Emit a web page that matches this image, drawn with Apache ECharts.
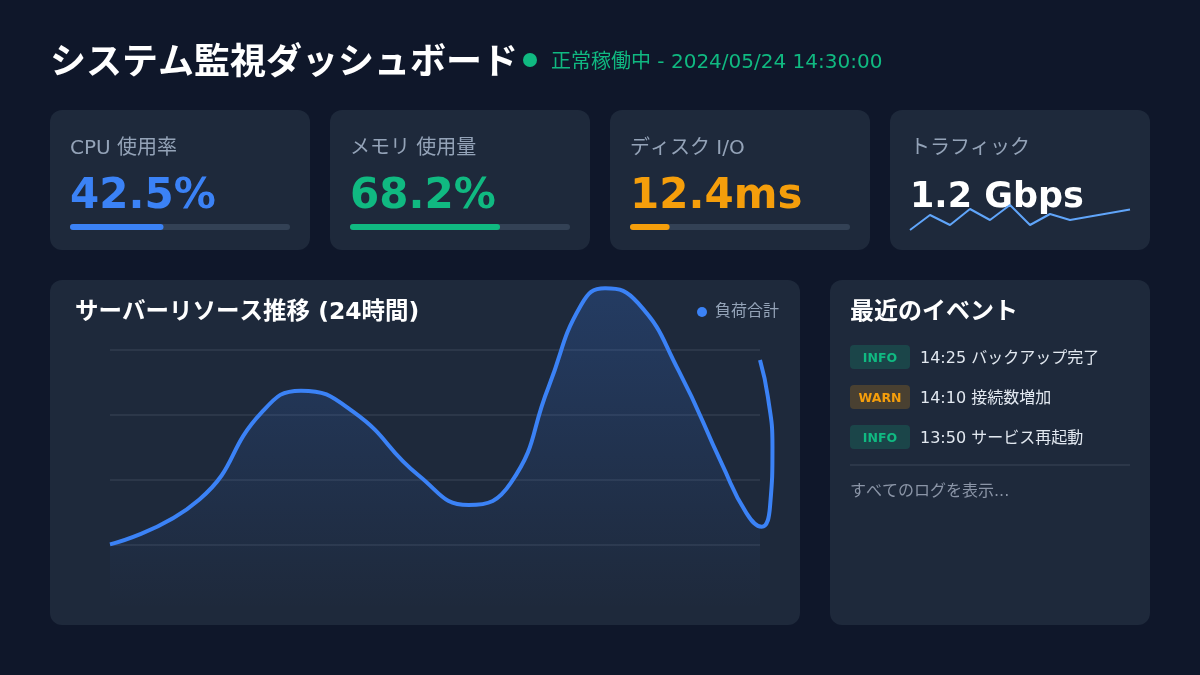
<!DOCTYPE html>
<html>
<head>
<meta charset="utf-8">
<script src="https://cdn.jsdelivr.net/npm/echarts@6/dist/echarts.min.js"></script>
<style>
  html, body { margin: 0; padding: 0; background: #0f172a; }
  #main { width: 1200px; height: 675px; }
</style>
</head>
<body>
<div id="main"></div>
<script>
// ヘッダー
var pageTitle = 'システム監視ダッシュボード';
var statusText = '正常稼働中 - 2024/05/24 14:30:00';

// KPIカード
var cardLabels = ['CPU 使用率', 'メモリ 使用量', 'ディスク I/O', 'トラフィック'];
var cardValues = ['42.5%', '68.2%', '12.4ms', '1.2 Gbps'];
var cardBars = [42.5, 68.2, 18];          // プログレスバー (%)
var trafficSpark = [0, 15, 5, 21, 10, 25, 5, 16, 10, 13.5, 17, 20.5];

// サーバーリソース推移 (時間, 負荷)
var chartTitle = 'サーバーリソース推移 (24時間)';
var seriesName = '負荷合計';
var hours = [0, 3.3, 5.6, 7.05,
             9.0, 11.4, 13.24,
             14.8, 16.2, 17.4, 18.28,
             19.5, 21.0, 22.6, 23.5, 24.06,
             24.37, 24.46, 24.29, 24];
var load = [20.2, 34.0, 60.8, 67.5,
            60.9, 41.4, 32.3,
            39.1, 68.8, 93.9, 99.0,
            94.4, 73.6, 44.8, 29.8, 25.6,
            31.8, 50.3, 65.6, 76.9];

// イベント
var eventsTitle = '最近のイベント';
var eventLevels = ['INFO', 'WARN', 'INFO'];
var eventTimes = ['14:25', '14:10', '13:50'];
var eventTexts = ['バックアップ完了', '接続数増加', 'サービス再起動'];
var moreText = 'すべてのログを表示...';

var FONT = "'DejaVu Sans', 'Noto Sans CJK JP', sans-serif";
var cardColors = ['#3b82f6', '#10b981', '#f59e0b', '#ffffff'];
var levelStyle = {
  INFO: { bg: 'rgba(16,185,129,0.2)', fg: '#10b981' },
  WARN: { bg: 'rgba(245,158,11,0.2)', fg: '#f59e0b' }
};

var chart = echarts.init(document.getElementById('main'));

var graphics = [];
function txt(x, y, text, font, color, align) {
  graphics.push({
    type: 'text', z: 1,
    style: { x: x, y: y, text: text, font: font, fill: color, align: align || 'left', verticalAlign: 'middle' }
  });
}
function box(x, y, w, h, r, color, z) {
  graphics.push({ type: 'rect', z: z || 0, shape: { x: x, y: y, width: w, height: h, r: r }, style: { fill: color } });
}

// header
txt(50, 65, pageTitle, 'bold 36px ' + FONT, '#ffffff');
graphics.push({ type: 'circle', z: 1, shape: { cx: 530, cy: 60, r: 7 }, style: { fill: '#10b981' } });
txt(551, 63, statusText, '20px ' + FONT, '#10b981');

// cards
var grids = [], xAxes = [], yAxes = [], series = [];
cardLabels.forEach(function (label, i) {
  var x0 = 50 + i * 280;
  box(x0, 110, 260, 140, 12, '#1e293b');
  txt(x0 + 20, 149, label, '20px ' + FONT, '#94a3b8');
  if (i < 3) {
    txt(x0 + 20, 197, cardValues[i], 'bold 42px ' + FONT, cardColors[i]);
    grids.push({ left: x0 + 20, top: 224, width: 220, height: 6 });
    xAxes.push({ type: 'value', min: 0, max: 100, show: false, gridIndex: i });
    yAxes.push({ type: 'category', data: [label], show: false, gridIndex: i });
    series.push({
      type: 'bar', xAxisIndex: i, yAxisIndex: i, data: [cardBars[i]], barWidth: 6,
      itemStyle: { color: cardColors[i], borderRadius: 3 },
      showBackground: true, backgroundStyle: { color: '#334155', borderRadius: 3 },
      silent: true
    });
  } else {
    txt(x0 + 20, 198, cardValues[i], 'bold 35px ' + FONT, cardColors[i]);
    grids.push({ left: 910, top: 200, width: 220, height: 30 });
    xAxes.push({ type: 'category', data: trafficSpark.map(function (v, k) { return k; }), boundaryGap: false, show: false, gridIndex: i });
    yAxes.push({ type: 'value', min: 0, max: 30, show: false, gridIndex: i });
    series.push({
      type: 'line', xAxisIndex: i, yAxisIndex: i, data: trafficSpark, showSymbol: false, z: 3,
      lineStyle: { color: '#60a5fa', width: 2 }, silent: true
    });
  }
});

// main panel
box(50, 280, 750, 345, 12, '#1e293b');
txt(75, 313, chartTitle, 'bold 23.5px ' + FONT, '#ffffff');

// grid 4: 0-24h (split lines + area), grid 5: same scale, wider so the line tail is not cut
grids.push({ left: 110, width: 650, top: 285, bottom: 65 });
grids.push({ left: 110, width: 650 * 25 / 24, top: 285, bottom: 65 });
xAxes.push({ type: 'value', min: 0, max: 24, show: false, gridIndex: 4 });
xAxes.push({ type: 'value', min: 0, max: 25, show: false, gridIndex: 5 });
yAxes.push({
  type: 'value', min: 0, max: 100, interval: 20, gridIndex: 4,
  axisLine: { show: false }, axisTick: { show: false }, axisLabel: { show: false },
  splitLine: { show: true, showMinLine: false, showMaxLine: false, lineStyle: { color: '#2c3749', width: 2 } }
});
yAxes.push({ type: 'value', min: 0, max: 100, show: false, gridIndex: 5 });

var mainPts = hours.map(function (h, k) { return [h, load[k]]; });
series.push({
  name: 'area', type: 'line', xAxisIndex: 4, yAxisIndex: 4, smooth: true, showSymbol: false,
  data: mainPts, lineStyle: { width: 0 }, silent: true,
  areaStyle: {
    color: new echarts.graphic.LinearGradient(0, 0, 0, 1, [
      { offset: 0, color: 'rgba(59,130,246,0.3)' },
      { offset: 1, color: 'rgba(59,130,246,0)' }
    ])
  }
});
series.push({
  name: seriesName, type: 'line', xAxisIndex: 5, yAxisIndex: 5, smooth: true, showSymbol: false,
  data: mainPts, z: 3,
  itemStyle: { color: '#3b82f6' }, lineStyle: { color: '#3b82f6', width: 4 }
});

// events panel
box(830, 280, 320, 345, 12, '#1e293b');
txt(850, 313, eventsTitle, 'bold 24px ' + FONT, '#ffffff');
eventLevels.forEach(function (lv, i) {
  var cy = 357 + i * 40;
  box(850, cy - 12, 60, 24, 4, levelStyle[lv].bg, 1);
  txt(880, cy + 2, lv, 'bold 12.5px ' + FONT, levelStyle[lv].fg, 'center');
  txt(920, cy + 2, eventTimes[i] + ' ' + eventTexts[i], '16px ' + FONT, '#e2e8f0');
});
box(850, 464, 280, 2, 0, '#2c3749', 1);
txt(850, 492, moreText, '16px ' + FONT, '#8b95a7');

chart.setOption({
  backgroundColor: '#0f172a',
  animation: false,
  textStyle: { fontFamily: FONT },
  legend: {
    data: [seriesName], left: 692, top: 299, icon: 'circle', itemWidth: 16, itemHeight: 10,
    textStyle: { color: '#94a3b8', fontSize: 16, fontFamily: FONT }
  },
  grid: grids,
  xAxis: xAxes,
  yAxis: yAxes,
  series: series,
  graphic: graphics
});
</script>
</body>
</html>
